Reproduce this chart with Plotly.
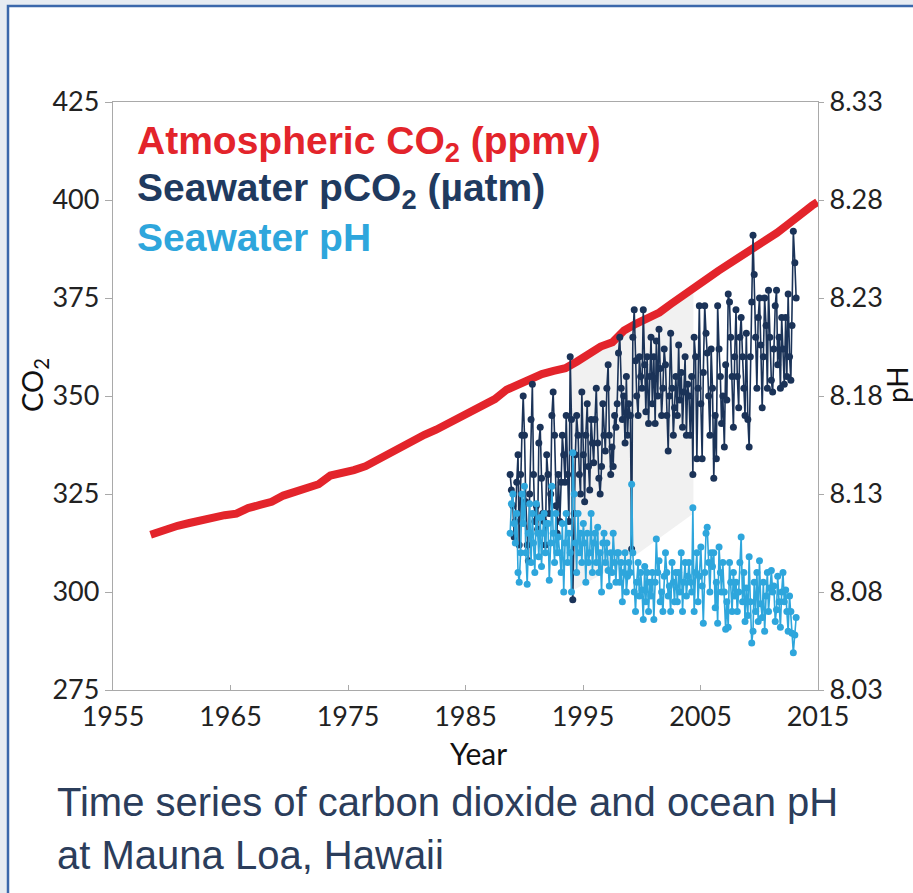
import plotly.graph_objects as go

# ---------------- data ----------------
co2_year = [1958.2, 1959.5, 1960.5, 1961.5, 1962.5, 1963.5, 1964.5, 1965.5, 1966.5, 1967.5,
            1968.5, 1969.5, 1970.5, 1971.5, 1972.5, 1973.5, 1974.5, 1975.5, 1976.5, 1977.5,
            1978.5, 1979.5, 1980.5, 1981.5, 1982.5, 1983.5, 1984.5, 1985.5, 1986.5, 1987.5,
            1988.5, 1989.5, 1990.5, 1991.5, 1992.5, 1993.5, 1994.5, 1995.5, 1996.5, 1997.5,
            1998.5, 1999.5, 2000.5, 2001.5, 2002.5, 2003.5, 2004.5, 2005.5, 2006.5, 2007.5,
            2008.5, 2009.5, 2010.5, 2011.5, 2012.5, 2013.5, 2014.5, 2014.95]
co2_ppmv = [314.6, 316.0, 316.9, 317.6, 318.4, 319.0, 319.6, 320.0, 321.4, 322.2,
            323.0, 324.6, 325.7, 326.3, 327.5, 329.7, 330.2, 331.1, 332.1, 333.8,
            335.4, 336.8, 338.7, 340.1, 341.4, 343.0, 344.6, 346.0, 347.4, 349.2,
            351.6, 353.1, 354.4, 355.6, 356.4, 357.1, 358.8, 360.8, 362.6, 363.7,
            366.7, 368.4, 369.7, 371.3, 373.5, 375.8, 377.5, 379.8, 381.9, 383.8,
            385.6, 387.4, 389.9, 391.6, 393.9, 396.5, 398.6, 399.5]

sample_year = [
    1988.80, 1988.90,
    1989.03, 1989.14, 1989.24, 1989.36, 1989.47, 1989.57, 1989.69, 1989.80, 1989.91,
    1990.02, 1990.13, 1990.25, 1990.35, 1990.46, 1990.58, 1990.69, 1990.79, 1990.90,
    1991.03, 1991.14, 1991.24, 1991.36, 1991.47, 1991.57, 1991.69, 1991.80, 1991.91,
    1992.02, 1992.13, 1992.25, 1992.35, 1992.46, 1992.58, 1992.69, 1992.79, 1992.90,
    1993.03, 1993.14, 1993.24, 1993.36, 1993.47, 1993.57, 1993.69, 1993.80, 1993.91,
    1994.02, 1994.13, 1994.25, 1994.35, 1994.46, 1994.58, 1994.69, 1994.79, 1994.90,
    1995.03, 1995.14, 1995.24, 1995.36, 1995.47, 1995.57, 1995.69, 1995.80, 1995.91,
    1996.02, 1996.13, 1996.25, 1996.35, 1996.46, 1996.58, 1996.69, 1996.79, 1996.90,
    1997.03, 1997.14, 1997.24, 1997.36, 1997.47, 1997.57, 1997.69, 1997.80, 1997.91,
    1998.02, 1998.13, 1998.25, 1998.35, 1998.46, 1998.58, 1998.69, 1998.79, 1998.90,
    1999.03, 1999.14, 1999.24, 1999.36, 1999.47, 1999.57, 1999.69, 1999.80, 1999.91,
    2000.02, 2000.13, 2000.25, 2000.35, 2000.46, 2000.58, 2000.69, 2000.79, 2000.90,
    2001.03, 2001.14, 2001.24, 2001.36, 2001.47, 2001.57, 2001.69, 2001.80, 2001.91,
    2002.02, 2002.13, 2002.25, 2002.35, 2002.46, 2002.58, 2002.69, 2002.79, 2002.90,
    2003.03, 2003.14, 2003.24, 2003.36, 2003.47, 2003.57, 2003.69, 2003.80, 2003.91,
    2004.02, 2004.13, 2004.25, 2004.35, 2004.46, 2004.58, 2004.69, 2004.79, 2004.90,
    2005.03, 2005.14, 2005.24, 2005.36, 2005.47, 2005.57, 2005.69, 2005.80, 2005.91,
    2006.02, 2006.13, 2006.25, 2006.35, 2006.46, 2006.58, 2006.69, 2006.79, 2006.90,
    2007.03, 2007.14, 2007.24, 2007.36, 2007.47, 2007.57, 2007.69, 2007.80, 2007.91,
    2008.02, 2008.13, 2008.25, 2008.35, 2008.46, 2008.58, 2008.69, 2008.79, 2008.90,
    2009.03, 2009.14, 2009.24, 2009.36, 2009.47, 2009.57, 2009.69, 2009.80, 2009.91,
    2010.02, 2010.13, 2010.25, 2010.35, 2010.46, 2010.58, 2010.69, 2010.79, 2010.90,
    2011.03, 2011.14, 2011.24, 2011.36, 2011.47, 2011.57, 2011.69, 2011.80, 2011.91,
    2012.02, 2012.13, 2012.25, 2012.35, 2012.46, 2012.58, 2012.69, 2012.79, 2012.90,
    2013.03, 2013.14,
]

seawater_pco2 = [
    330, 326,
    322, 314, 318, 328, 335, 312, 330, 340, 350,
    340, 323, 312, 308, 325, 344, 353, 330, 318,
    322, 316, 338, 342, 329, 320, 318, 312, 335,
    330, 320, 325, 345, 351, 340, 322, 315, 330,
    318, 328, 340, 335, 328, 345, 330, 318, 360,
    344, 298, 320, 335, 345, 340, 330, 325, 351,
    335, 323, 340, 348, 332, 326, 344, 338, 333,
    344, 352, 338, 329, 325, 332, 348, 340, 336,
    352, 358, 340, 330, 337, 332, 345, 342, 348,
    361, 365, 352, 344, 350, 338, 355, 340, 348,
    345, 311, 365, 372, 359, 350, 345, 360, 355,
    352, 372, 358, 346, 360, 343, 355, 365, 348,
    360, 343, 364, 350, 367, 357, 345, 352, 362,
    358, 345, 336, 350, 366, 352, 340, 347, 355,
    345, 363, 349, 356, 342, 351, 360, 340, 353,
    350, 340, 355, 330, 365, 360, 334, 352, 373,
    348, 334, 356, 373, 366, 361, 350, 340, 362,
    352, 329, 345, 334, 373, 362, 355, 343, 350,
    337, 358, 349, 376, 374, 365, 355, 342, 360,
    372, 355, 347, 365, 370, 360, 352, 345, 366,
    344, 337, 360, 374, 391, 381, 365, 352, 370,
    375, 363, 347, 360, 375, 368, 352, 377, 365,
    354, 351, 362, 373, 377, 358, 365, 352, 370,
    362, 353, 370, 355, 376, 360, 354, 368, 392,
    384, 375,
]

seawater_ph = [
    8.110, 8.125,
    8.130, 8.115, 8.105, 8.120, 8.090, 8.085, 8.100, 8.130, 8.115,
    8.134, 8.100, 8.084, 8.110, 8.125, 8.095, 8.120, 8.105, 8.090,
    8.125, 8.110, 8.098, 8.118, 8.093, 8.110, 8.120, 8.100, 8.115,
    8.115, 8.086, 8.105, 8.134, 8.110, 8.095, 8.120, 8.100, 8.108,
    8.100, 8.090, 8.115, 8.080, 8.105, 8.120, 8.095, 8.110, 8.100,
    8.080, 8.151, 8.130, 8.105, 8.090, 8.120, 8.100, 8.110, 8.095,
    8.115, 8.105, 8.085, 8.110, 8.095, 8.100, 8.120, 8.090, 8.105,
    8.110, 8.095, 8.113, 8.090, 8.100, 8.080, 8.105, 8.110, 8.095,
    8.105, 8.091, 8.083, 8.100, 8.090, 8.110, 8.095, 8.085, 8.100,
    8.100, 8.085, 8.095, 8.075, 8.090, 8.100, 8.080, 8.088, 8.095,
    8.090, 8.135, 8.100, 8.080, 8.070, 8.085, 8.095, 8.078, 8.090,
    8.081, 8.066, 8.093, 8.075, 8.090, 8.070, 8.085, 8.078, 8.090,
    8.066, 8.085, 8.107, 8.090, 8.096, 8.075, 8.080, 8.070, 8.088,
    8.100, 8.090, 8.078, 8.083, 8.070, 8.095, 8.085, 8.075, 8.090,
    8.075, 8.090, 8.080, 8.100, 8.070, 8.085, 8.095, 8.078, 8.088,
    8.095, 8.085, 8.080, 8.123, 8.070, 8.090, 8.100, 8.075, 8.088,
    8.103, 8.083, 8.064, 8.090, 8.110, 8.113, 8.095, 8.080, 8.100,
    8.093, 8.100, 8.072, 8.085, 8.064, 8.103, 8.090, 8.080, 8.095,
    8.080, 8.061, 8.075, 8.062, 8.095, 8.085, 8.070, 8.090, 8.078,
    8.085, 8.070, 8.080, 8.095, 8.108, 8.075, 8.090, 8.065, 8.082,
    8.068, 8.098, 8.075, 8.054, 8.060, 8.085, 8.070, 8.090, 8.065,
    8.096, 8.074, 8.067, 8.085, 8.060, 8.078, 8.090, 8.070, 8.082,
    8.091, 8.080, 8.083, 8.065, 8.071, 8.088, 8.075, 8.062, 8.080,
    8.090, 8.075, 8.081, 8.070, 8.060, 8.078, 8.070, 8.059, 8.049,
    8.058, 8.067,
]

x_ticks = [1955, 1965, 1975, 1985, 1995, 2005, 2015]
co2_ticks = [275, 300, 325, 350, 375, 400, 425]
ph_ticks = [8.03, 8.08, 8.13, 8.18, 8.23, 8.28, 8.33]

# light grey highlighted band (1994-2004)
shade_start, shade_end = 1993.9, 2004.4
shade_bottom_x = [2004.4, 1999.3, 1993.9]
shade_bottom_y = [320, 309, 300]

# ---------------- figure ----------------
RED = "#e3242b"
NAVY = "#1b3358"
LIGHT = "#2ea6dc"
AXIS = "#a9a9a9"
TICKFONT = dict(family="Lato, Open Sans, sans-serif", size=27, color="#222222")

fig = go.Figure()

# shaded band: top follows atmospheric CO2 curve
top_x = [shade_start] + [x for x in co2_year if shade_start < x < shade_end] + [shade_end]
top_y = [357.5] + [y for x, y in zip(co2_year, co2_ppmv) if shade_start < x < shade_end] + [378.0]
fig.add_trace(go.Scatter(
    x=top_x + shade_bottom_x, y=top_y + shade_bottom_y, fill="toself",
    fillcolor="#f1f1f1", mode="lines", line=dict(width=0), hoverinfo="skip",
    showlegend=False))

fig.add_trace(go.Scatter(
    x=co2_year, y=co2_ppmv, mode="lines", line=dict(color=RED, width=8),
    showlegend=False, name="Atmospheric CO2"))

fig.add_trace(go.Scatter(
    x=sample_year, y=seawater_pco2, mode="lines+markers",
    line=dict(color=NAVY, width=1.6), marker=dict(color=NAVY, size=7),
    showlegend=False, name="Seawater pCO2"))

fig.add_trace(go.Scatter(
    x=sample_year, y=seawater_ph, mode="lines+markers", yaxis="y2",
    line=dict(color=LIGHT, width=1.6), marker=dict(color=LIGHT, size=7),
    showlegend=False, name="Seawater pH"))

fig.update_layout(
    width=913, height=893,
    margin=dict(l=113, r=95, t=102, b=203),
    paper_bgcolor="#e7ecf2",
    plot_bgcolor="white",
    xaxis=dict(range=[1955, 2015], tickvals=x_ticks, showgrid=False, zeroline=False,
               showline=True, linecolor=AXIS, linewidth=1.3, mirror=True,
               ticks="inside", ticklen=5, tickcolor=AXIS, tickfont=TICKFONT,
               ticklabelstandoff=2),
    yaxis=dict(range=[275, 425], tickvals=co2_ticks, showgrid=False, zeroline=False,
               showline=True, linecolor=AXIS, linewidth=1.3,
               ticks="outside", ticklen=7, tickcolor=AXIS, tickfont=TICKFONT),
    yaxis2=dict(range=[8.03, 8.33], tickvals=ph_ticks, tickformat=".2f",
                overlaying="y", side="right", showgrid=False, zeroline=False,
                showline=True, linecolor=AXIS, linewidth=1.3,
                ticks="outside", ticklen=5, tickcolor=AXIS, tickfont=TICKFONT),
    showlegend=False,
)

# page frame (white card with blue border)
fig.add_shape(type="rect", xref="paper", yref="paper",
              x0=(8 - 113) / 705, x1=(960 - 113) / 705,
              y0=(690 - 960) / 588, y1=(690 - 6) / 588,
              fillcolor="white", line=dict(color="#3b68ab", width=2.5), layer="below")

LEG = "Liberation Sans, Arial, sans-serif"
legend_lines = [
    ("<b>Atmospheric CO<sub>2</sub> (ppmv)</b>", RED, 143),
    ("<b>Seawater pCO<sub>2</sub> (µatm)</b>", "#1f3a5f", 190),
    ("<b>Seawater pH</b>", LIGHT, 237),
]
for txt, col, py in legend_lines:
    fig.add_annotation(text=txt, xref="paper", yref="paper",
                       x=(135 - 113) / 705, y=(690 - py) / 588,
                       xanchor="left", yanchor="middle", showarrow=False,
                       font=dict(family=LEG, size=39, color=col))

# axis titles
fig.add_annotation(text="CO<sub>2</sub>", xref="paper", yref="paper",
                   x=(33 - 113) / 705, y=(690 - 385) / 588, textangle=-90,
                   xanchor="center", yanchor="middle", showarrow=False,
                   font=dict(family="Lato, sans-serif", size=29, color="#111111"))
fig.add_annotation(text="pH", xref="paper", yref="paper",
                   x=(897 - 113) / 705, y=(690 - 385) / 588, textangle=-90,
                   xanchor="center", yanchor="middle", showarrow=False,
                   font=dict(family="Lato, sans-serif", size=28, color="#111111"))
fig.add_annotation(text="Year", xref="paper", yref="paper",
                   x=(478 - 113) / 705, y=(690 - 753) / 588,
                   xanchor="center", yanchor="middle", showarrow=False,
                   font=dict(family="Lato, sans-serif", size=30, color="#111111"))

# caption
CAP = dict(family="Liberation Sans, Arial, sans-serif", size=40, color="#2b3d5b")
fig.add_annotation(text="Time series of carbon dioxide and ocean pH", xref="paper", yref="paper",
                   x=(55 - 113) / 705, y=(690 - 802) / 588, xanchor="left", yanchor="middle",
                   showarrow=False, font=CAP)
fig.add_annotation(text="at Mauna Loa, Hawaii", xref="paper", yref="paper",
                   x=(55 - 113) / 705, y=(690 - 855) / 588, xanchor="left", yanchor="middle",
                   showarrow=False, font=CAP)

fig.write_html("out.html")
